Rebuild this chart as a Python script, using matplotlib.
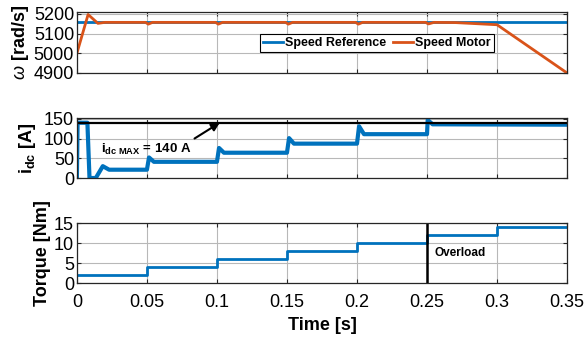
import matplotlib
matplotlib.use("Agg")
import matplotlib.pyplot as plt

plt.rcParams['font.family'] = ['Liberation Sans', 'DejaVu Sans']
plt.rcParams['mathtext.fontset'] = 'custom'
plt.rcParams['mathtext.rm'] = 'Liberation Sans'
plt.rcParams['mathtext.it'] = 'Liberation Sans:italic'
plt.rcParams['mathtext.bf'] = 'Liberation Sans:bold'

BLUE = '#0072BD'
ORANGE = '#D95319'

# time ticks
time_ticks = [0, 0.05, 0.1, 0.15, 0.2, 0.25, 0.3, 0.35]
time_labels = ['0', '0.05', '0.1', '0.15', '0.2', '0.25', '0.3', '0.35']

# speed (rad/s)
t_ref = [0.0, 0.35]
speed_ref = [5157, 5157]
t_motor = [0.0, 0.008, 0.015, 0.02, 0.049, 0.051, 0.054, 0.099, 0.101, 0.104,
           0.149, 0.151, 0.154, 0.199, 0.201, 0.204, 0.249, 0.251, 0.255,
           0.27, 0.3, 0.35]
speed_motor = [5000, 5197, 5152, 5157, 5157, 5148, 5157, 5157, 5148, 5157,
               5157, 5148, 5157, 5157, 5148, 5157, 5157, 5149, 5157,
               5156, 5145, 4900]

# dc current (A)
t_idc = [0.0, 0.0005, 0.0075, 0.009, 0.0135, 0.0185, 0.023, 0.05, 0.0515, 0.055,
         0.1, 0.1015, 0.105, 0.15, 0.1515, 0.155, 0.2, 0.2015, 0.205,
         0.25, 0.2505, 0.254, 0.35]
idc = [0, 140, 140, 0, 0, 30, 21, 21, 52, 41, 41, 76, 64, 64, 101, 87, 87,
       131, 111, 111, 147, 136, 135]
idc_max = 140

# load torque (Nm)
t_torque = [0.0, 0.05, 0.1, 0.15, 0.2, 0.25, 0.3, 0.35]
torque = [2, 4, 6, 8, 10, 12, 14, 14]

fig = plt.figure(figsize=(5.87, 3.41), dpi=100)
left, width = 0.131, 0.835
ax1 = fig.add_axes([left, 0.786, width, 0.179])
ax2 = fig.add_axes([left, 0.478, width, 0.176])
ax3 = fig.add_axes([left, 0.169, width, 0.177])

for ax in (ax1, ax2, ax3):
    ax.set_xlim(0, 0.35)
    ax.set_xticks(time_ticks)
    ax.set_xticklabels(time_labels)
    ax.grid(True, color='#b8b8b8', lw=0.8)
    ax.set_axisbelow(True)
    ax.tick_params(direction='in', top=True, right=True, labelsize=13,
                   length=3, color='#262626', pad=2)
    for s in ax.spines.values():
        s.set_color('#262626')
        s.set_linewidth(0.9)
ax1.tick_params(labelbottom=False)
ax2.tick_params(labelbottom=False)
ax3.tick_params(axis='x', pad=8)

# speed
ax1.plot(t_ref, speed_ref, color=BLUE, lw=2, label='Speed Reference')
ax1.plot(t_motor, speed_motor, color=ORANGE, lw=2, label='Speed Motor')
ax1.set_ylim(4900, 5210)
ax1.set_yticks([4900, 5000, 5100, 5200])
ax1.set_ylabel(r'$\omega$ [rad/s]', fontsize=13, fontweight='bold', labelpad=2)
leg = ax1.legend(loc='center left', bbox_to_anchor=(0.36, 0.49), ncol=2,
                 fancybox=False, edgecolor='black', framealpha=1,
                 prop={'weight': 'bold', 'size': 9}, handlelength=1.6,
                 handletextpad=0.2, columnspacing=0.5, borderpad=0.25)
leg.get_frame().set_linewidth(0.8)

# current
ax2.plot(t_idc, idc, color=BLUE, lw=3)
ax2.axhline(idc_max, color='black', lw=1.6)
ax2.set_ylim(0, 152)
ax2.set_yticks([0, 50, 100, 150])
ax2.set_ylabel(r'$\mathbf{i_{dc}}$ [A]', fontsize=13, fontweight='bold', labelpad=4)
ax2.text(0.017, 72, r'$\mathbf{i_{dc\ MAX}}$ = 140 A', fontsize=9.5,
         fontweight='bold', va='center')
ax2.annotate('', xy=(0.102, idc_max), xytext=(0.084, 100),
             arrowprops=dict(arrowstyle='-|>', color='black', lw=1.5,
                             mutation_scale=12, shrinkA=0, shrinkB=0))

# torque
ax3.step(t_torque, torque, where='post', color=BLUE, lw=2)
ax3.axvline(0.25, color='black', lw=1.8)
ax3.text(0.2555, 7.5, 'Overload', fontsize=8.5, fontweight='bold', va='center')
ax3.set_ylim(0, 15)
ax3.set_yticks([0, 5, 10, 15])
ax3.set_ylabel('Torque [Nm]', fontsize=13, fontweight='bold', labelpad=2)
ax3.set_xlabel('Time [s]', fontsize=13, fontweight='bold', labelpad=4)

fig.savefig('out.png', dpi=100)
